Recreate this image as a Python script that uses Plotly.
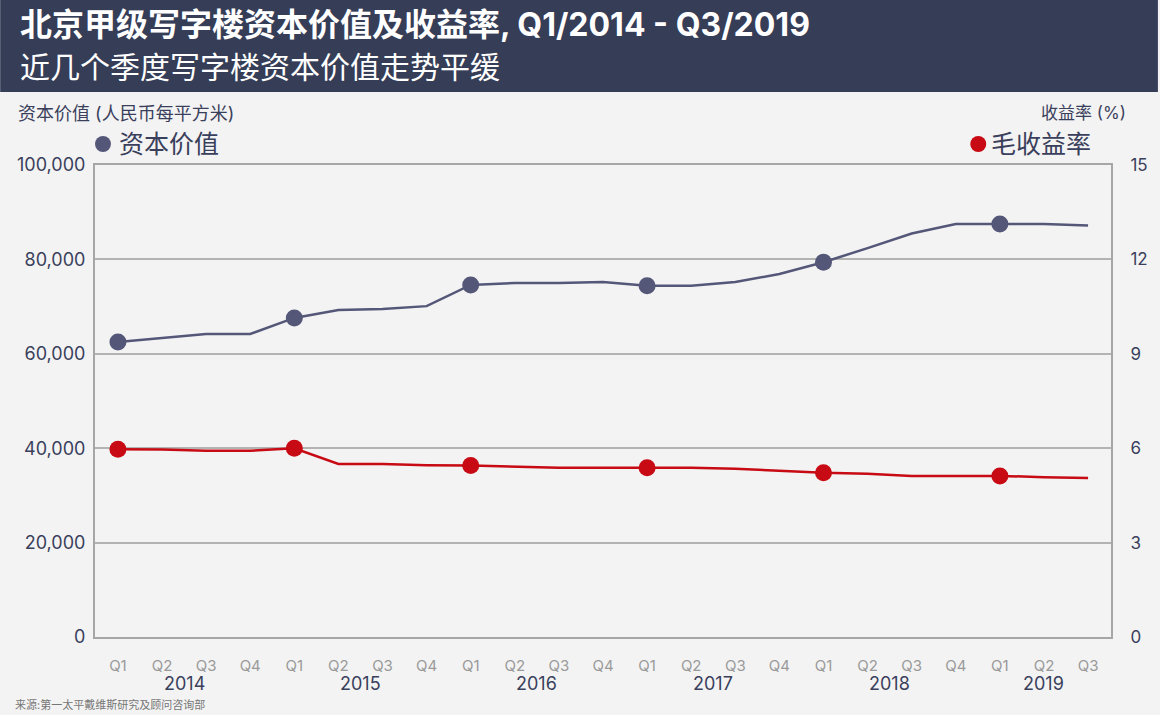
import plotly.graph_objects as go

quarters = ["Q1", "Q2", "Q3", "Q4"] * 5 + ["Q1", "Q2", "Q3"]
years = ["2014", "2015", "2016", "2017", "2018", "2019"]
capital_value = [62500, 63300, 64200, 64200, 67600, 69300, 69500, 70100,
                 74600, 75000, 75000, 75200, 74400, 74400, 75200, 76900,
                 79400, 82400, 85500, 87500, 87500, 87500, 87200]
gross_yield = [5.97, 5.96, 5.92, 5.92, 6.0, 5.5, 5.5, 5.46, 5.45, 5.42,
               5.38, 5.38, 5.38, 5.38, 5.35, 5.28, 5.22, 5.19, 5.12,
               5.12, 5.12, 5.08, 5.05]
left_ticks = [0, 20000, 40000, 60000, 80000, 100000]
right_ticks = [0, 3, 6, 9, 12, 15]

FONT = "Inter, 'Noto Sans CJK SC', sans-serif"
NAVY = "#353d57"
BLUE = "#545778"
RED = "#c70a13"
TEXT = "#3a3f5c"

W, H = 1160, 715
L, R, T, B = 95, 1113, 165, 637
def px(x):
    return (x - L) / (R - L)
def py(y):
    return (B - y) / (B - T)

idx = list(range(len(quarters)))
mark_idx = [i for i, q in enumerate(quarters) if q == "Q1"]

fig = go.Figure()
fig.add_trace(go.Scatter(x=idx, y=capital_value, mode="lines",
                         line=dict(color=BLUE, width=2.5), showlegend=False,
                         hoverinfo="skip"))
fig.add_trace(go.Scatter(x=mark_idx, y=[capital_value[i] for i in mark_idx],
                         mode="markers", marker=dict(color=BLUE, size=17),
                         showlegend=False))
fig.add_trace(go.Scatter(x=idx, y=gross_yield, mode="lines", yaxis="y2",
                         line=dict(color=RED, width=2.5), showlegend=False,
                         hoverinfo="skip"))
fig.add_trace(go.Scatter(x=mark_idx, y=[gross_yield[i] for i in mark_idx],
                         yaxis="y2", mode="markers",
                         marker=dict(color=RED, size=17), showlegend=False))

# year labels centred under each year's quarters
year_pos = []
for k, yr in enumerate(years):
    members = [i for i in idx if i // 4 == k]
    year_pos.append((members[0] + members[-1]) / 2 if len(members) == 4 else members[1])

annotations = []
for yr, xp in zip(years, year_pos):
    annotations.append(dict(x=xp, y=py(683), xref="x", yref="paper", text=yr,
                            showarrow=False, font=dict(family=FONT, size=18, color=TEXT),
                            xanchor="center", yanchor="middle"))

annotations += [
    dict(x=px(18), y=py(25), xref="paper", yref="paper",
         text="<b>北京甲级写字楼资本价值及收益率, Q1/2014 - Q3/2019</b>",
         showarrow=False, xanchor="left", yanchor="middle",
         font=dict(family=FONT, size=32, color="white")),
    dict(x=px(18), y=py(67), xref="paper", yref="paper",
         text="近几个季度写字楼资本价值走势平缓",
         showarrow=False, xanchor="left", yanchor="middle",
         font=dict(family=FONT, size=30, color="white")),
    dict(x=px(16), y=py(113), xref="paper", yref="paper",
         text="资本价值 (人民币每平方米)", showarrow=False, xanchor="left",
         yanchor="middle", font=dict(family=FONT, size=18, color=TEXT)),
    dict(x=px(1130), y=py(113), xref="paper", yref="paper",
         text="收益率 (%)", showarrow=False, xanchor="right",
         yanchor="middle", font=dict(family=FONT, size=17, color=TEXT)),
    dict(x=px(117), y=py(144), xref="paper", yref="paper",
         text="资本价值", showarrow=False,
         xanchor="left", yanchor="middle", font=dict(family=FONT, size=25, color=TEXT)),
    dict(x=px(991), y=py(144), xref="paper", yref="paper",
         text="毛收益率", showarrow=False,
         xanchor="left", yanchor="middle", font=dict(family=FONT, size=25, color=TEXT)),
    dict(x=px(13), y=py(705), xref="paper", yref="paper",
         text="来源:第一太平戴维斯研究及顾问咨询部", showarrow=False,
         xanchor="left", yanchor="middle", font=dict(family=FONT, size=11, color="#777777")),
]

def dot(cx, cy, r, color):
    return dict(type="circle", xref="paper", yref="paper",
                x0=px(cx - r), x1=px(cx + r), y0=py(cy + r), y1=py(cy - r),
                fillcolor=color, line=dict(width=0))

shapes = [dict(type="rect", xref="paper", yref="paper", x0=px(0), x1=px(W),
               y0=py(92), y1=py(0), fillcolor=NAVY, line=dict(width=0), layer="below"),
          dot(103, 144, 8, BLUE), dot(980, 144, 8, RED)]

fig.update_layout(
    width=W, height=H,
    margin=dict(l=L, r=W - R, t=T, b=H - B),
    paper_bgcolor="#f3f3f3", plot_bgcolor="#f3f3f3",
    font=dict(family=FONT, color=TEXT),
    showlegend=False,
    xaxis=dict(range=[-0.52, len(idx) - 1 + 0.52], tickmode="array", tickvals=idx,
               ticktext=quarters, showgrid=False, zeroline=False,
               showline=True, linecolor="#a6a6a6", linewidth=2, mirror=True,
               ticks="", ticklabelstandoff=14,
               tickfont=dict(family=FONT, size=15, color="#9a9a9a")),
    yaxis=dict(range=[0, 100000], tickvals=left_ticks,
               ticktext=[f"{v:,}" for v in left_ticks], showgrid=True,
               gridcolor="#b3b3b3", gridwidth=1.5, zeroline=False,
               showline=True, linecolor="#a6a6a6", linewidth=2,
               ticks="", ticklabelstandoff=4,
               tickfont=dict(family=FONT, size=18, color=TEXT)),
    yaxis2=dict(range=[0, 15], tickvals=right_ticks, overlaying="y", side="right",
                showgrid=False, zeroline=False, showline=True,
                linecolor="#a6a6a6", linewidth=2, ticks="", ticklabelstandoff=14,
                tickfont=dict(family=FONT, size=17, color=TEXT)),
    annotations=annotations, shapes=shapes,
)

fig.write_html("out.html", config={"displayModeBar": False},
               post_script="document.body.style.margin='0';")
